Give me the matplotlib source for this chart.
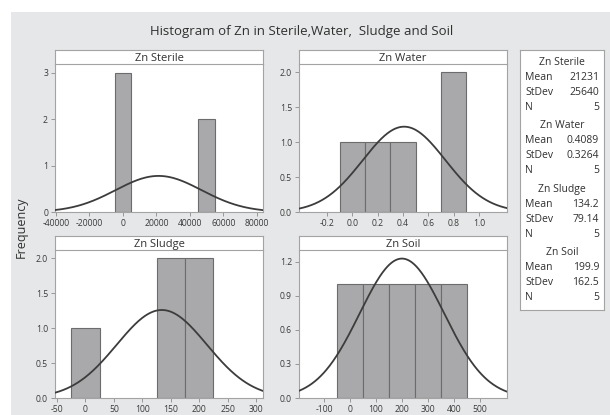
import numpy as np
import matplotlib
matplotlib.use('Agg')
import matplotlib.pyplot as plt
from matplotlib.patches import Rectangle

plt.rcParams['font.family'] = ['Open Sans', 'DejaVu Sans']

# histogram bars (bin centres, counts, bin width) and summary stats per sample
names = ['Zn Sterile', 'Zn Water', 'Zn Sludge', 'Zn Soil']
centers = [[0, 50000], [0.0, 0.2, 0.4, 0.8], [0, 150, 200], [0, 100, 200, 300, 400]]
counts = [[3, 2], [1, 1, 1, 2], [1, 2, 2], [1, 1, 1, 1, 1]]
widths = [10000, 0.2, 50, 100]
means = [21231, 0.4089, 134.2, 199.9]
stdevs = [25640, 0.3264, 79.14, 162.5]
ns = [5, 5, 5, 5]
mean_txt = ['21231', '0.4089', '134.2', '199.9']
sd_txt = ['25640', '0.3264', '79.14', '162.5']

xticks = [[-40000, -20000, 0, 20000, 40000, 60000, 80000],
          [-0.2, 0.0, 0.2, 0.4, 0.6, 0.8, 1.0],
          [-50, 0, 50, 100, 150, 200, 250, 300],
          [-100, 0, 100, 200, 300, 400, 500]]
xfmt = ['{:.0f}', '{:.1f}', '{:.0f}', '{:.0f}']
yticks = [[0, 1, 2, 3], [0, 0.5, 1.0, 1.5, 2.0], [0, 0.5, 1.0, 1.5, 2.0], [0, 0.3, 0.6, 0.9, 1.2]]
yfmt = ['{:.0f}', '{:.1f}', '{:.1f}', '{:.1f}']
xlims = [(-40600, 83600), (-0.42, 1.22), (-53.5, 312), (-196, 604)]
ylims = [(0, 3.19), (0, 2.12), (0, 2.119), (0, 1.303)]

W, H = 610, 415
fig = plt.figure(figsize=(W / 100, H / 100), dpi=100)
fig.patch.set_facecolor('white')
bg = Rectangle((11 / W, 0), 1, 1 - 12 / H, transform=fig.transFigure,
               facecolor='#e6e7e8', edgecolor='none', zorder=-10)
fig.patches.append(bg)

def px(l, t, r, b):
    return [l / W, 1 - b / H, (r - l) / W, (b - t) / H]

# (left, strip top, plot top, bottom, right) in pixels
boxes = [(55, 50, 64, 212, 263), (299, 50, 64, 212, 507),
         (55, 236, 250, 398, 263), (299, 236, 250, 398, 507)]

spine_c = '#a3a3a3'
for i in range(4):
    l, st, t, b, r = boxes[i]
    ax = fig.add_axes(px(l, t, r, b))
    ax.bar(centers[i], counts[i], width=widths[i], color='#a9a9ab',
           edgecolor='#6c6c6c', linewidth=0.8, zorder=2)
    xs = np.linspace(xlims[i][0], xlims[i][1], 300)
    ys = ns[i] * widths[i] / (stdevs[i] * np.sqrt(2 * np.pi)) * np.exp(-0.5 * ((xs - means[i]) / stdevs[i]) ** 2)
    ax.plot(xs, ys, color='#3c3c3c', linewidth=1.3, zorder=3)
    ax.set_xlim(xlims[i])
    ax.set_ylim(ylims[i])
    ax.set_xticks(xticks[i])
    ax.set_xticklabels([xfmt[i].format(v) for v in xticks[i]])
    ax.set_yticks(yticks[i])
    ax.set_yticklabels([yfmt[i].format(v) for v in yticks[i]])
    ax.tick_params(labelsize=6.2, colors='#8a8a8a', labelcolor='#3a3a3a',
                   length=3, width=0.6, pad=2)
    for s in ax.spines.values():
        s.set_color(spine_c)
        s.set_linewidth(0.8)
    ax.spines['top'].set_visible(False)

    sax = fig.add_axes(px(l, st, r, t))
    sax.set_xticks([])
    sax.set_yticks([])
    for s in sax.spines.values():
        s.set_color(spine_c)
        s.set_linewidth(0.8)
    sax.text(0.5, 0.4, names[i], ha='center', va='center', fontsize=8,
             color='#303030', transform=sax.transAxes)

fig.text(302 / W, 1 - 32 / H, 'Histogram of Zn in Sterile,Water,  Sludge and Soil',
         ha='center', va='center', fontsize=9.5, color='#303030')
fig.text(21 / W, 1 - 227 / H, 'Frequency', rotation=90, ha='center', va='center',
         fontsize=9, color='#303030')

# stats legend box
lax = fig.add_axes(px(520, 50, 604, 310))
lax.set_xlim(520, 604)
lax.set_ylim(310, 50)
lax.set_xticks([])
lax.set_yticks([])
for s in lax.spines.values():
    s.set_color(spine_c)
    s.set_linewidth(0.8)
y = 62
for i in range(4):
    lax.text(562, y, names[i], ha='center', va='center', fontsize=7.5, color='#303030')
    rows = [('Mean', mean_txt[i]), ('StDev', sd_txt[i]), ('N', str(ns[i]))]
    for k, (lab, val) in enumerate(rows):
        yy = y + 15 * (k + 1)
        lax.text(525, yy, lab, ha='left', va='center', fontsize=7.5, color='#303030')
        lax.text(599, yy, val, ha='right', va='center', fontsize=7.5, color='#303030')
    y += 15 * 3 + 18.5

fig.savefig('out.png', dpi=100, facecolor=fig.get_facecolor())
